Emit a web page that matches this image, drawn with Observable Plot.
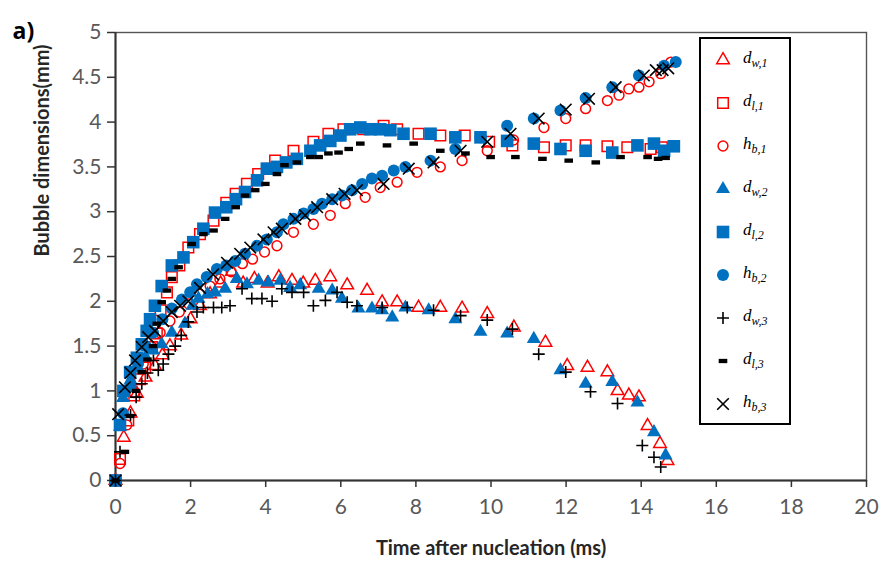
<!DOCTYPE html>
<html><head><meta charset="utf-8">
<script src="https://cdn.jsdelivr.net/npm/d3@7"></script>
<script src="https://cdn.jsdelivr.net/npm/@observablehq/plot@0.6"></script>
<style>
body{margin:0;background:#fff;}
#wrap{position:relative;width:886px;height:572px;overflow:hidden;}
#legend{position:absolute;left:699px;top:37px;width:88px;height:384px;border:2px solid #000;background:#fff;}
.row{position:absolute;left:0;width:88px;height:30px;}
.lab{position:absolute;left:42px;top:3px;font-family:"Liberation Serif","DejaVu Serif",serif;font-style:italic;font-size:17px;color:#000;white-space:nowrap;}
.lab sub{font-size:12px;font-style:italic;}
</style></head><body><div id="wrap"></div>
<script>
// ---- data: [time (ms), dimension (mm)] ----
const dw1 = [[0,0],[0.22,0.48],[0.4,0.75],[0.57,0.97],[0.8,1.15],[1.05,1.28],[1.25,1.4],[1.45,1.5],[1.75,1.62],[2.0,1.8],[2.25,1.95],[2.52,2.08],[2.8,2.2],[3.1,2.33],[3.4,2.2],[3.7,2.25],[4.05,2.2],[4.35,2.27],[4.7,2.23],[5.0,2.2],[5.32,2.23],[5.72,2.27],[6.17,2.18],[6.7,2.12],[7.1,1.99],[7.5,1.99],[8.07,1.93],[8.65,1.93],[9.23,1.92],[9.9,1.86],[10.61,1.71],[11.45,1.54],[12.03,1.28],[12.57,1.26],[13.1,1.21],[13.37,1.0],[13.67,0.95],[13.94,0.93],[14.17,0.61],[14.5,0.41],[14.7,0.22]];
const dl1 = [[0,0],[0.12,0.24],[0.34,0.67],[0.5,0.95],[0.65,1.13],[0.79,1.26],[0.97,1.49],[1.1,1.64],[1.2,1.9],[1.37,2.1],[1.5,2.27],[1.7,2.4],[1.94,2.6],[2.25,2.75],[2.61,2.9],[2.95,3.1],[3.2,3.2],[3.5,3.31],[3.8,3.42],[4.05,3.48],[4.25,3.57],[4.74,3.68],[5.27,3.78],[5.67,3.87],[6.07,3.92],[6.6,3.92],[7.14,3.96],[7.5,3.92],[8.07,3.87],[8.65,3.85],[9.3,3.85],[9.95,3.78],[10.57,3.74],[11.41,3.72],[11.99,3.74],[12.52,3.74],[13.1,3.73],[13.63,3.72],[14.25,3.7],[14.55,3.72]];
const hb1 = [[0,0],[0.12,0.19],[0.3,0.62],[0.5,0.98],[0.74,1.3],[0.95,1.5],[1.19,1.65],[1.45,1.78],[1.7,1.88],[1.95,1.97],[2.25,2.08],[2.52,2.17],[2.78,2.25],[3.08,2.33],[3.38,2.42],[3.65,2.47],[3.97,2.55],[4.3,2.62],[4.74,2.77],[5.27,2.86],[5.72,2.96],[6.12,3.09],[6.65,3.16],[7.05,3.27],[7.5,3.33],[8.03,3.44],[8.65,3.5],[9.23,3.57],[9.9,3.68],[10.6,3.8],[11.41,3.94],[11.99,4.04],[12.52,4.15],[13.1,4.24],[13.41,4.3],[13.67,4.37],[13.94,4.39],[14.21,4.45],[14.52,4.54],[14.79,4.67]];
const dw2 = [[0,0],[0.12,0.6],[0.2,0.92],[0.4,1.12],[0.6,1.25],[0.8,1.38],[1.0,1.45],[1.23,1.52],[1.5,1.65],[1.85,1.75],[2.05,1.95],[2.21,2.03],[2.45,2.08],[2.65,2.1],[2.92,2.14],[3.23,2.25],[3.5,2.19],[3.81,2.23],[4.07,2.21],[4.39,2.23],[4.65,2.15],[4.92,2.18],[5.41,2.14],[5.77,2.12],[6.03,2.03],[6.47,1.92],[6.83,1.92],[7.1,1.9],[7.37,1.82],[7.72,1.93],[8.34,1.9],[9.05,1.8],[9.72,1.66],[10.43,1.64],[11.14,1.58],[11.85,1.23],[12.52,1.08],[13.23,1.1],[13.9,0.87],[14.34,0.54],[14.65,0.28]];
const dl2 = [[0,0],[0.12,0.62],[0.21,1.0],[0.39,1.21],[0.57,1.37],[0.7,1.52],[0.83,1.67],[0.92,1.8],[1.05,1.95],[1.23,2.17],[1.5,2.4],[1.81,2.49],[2.07,2.66],[2.34,2.81],[2.65,2.99],[2.95,3.05],[3.21,3.14],[3.45,3.22],[3.77,3.35],[4.03,3.48],[4.3,3.5],[4.55,3.55],[4.83,3.59],[5.19,3.68],[5.45,3.74],[5.72,3.79],[5.99,3.85],[6.25,3.92],[6.52,3.94],[6.79,3.92],[7.05,3.92],[7.32,3.91],[7.67,3.87],[8.39,3.87],[9.05,3.83],[9.72,3.83],[10.43,3.79],[11.14,3.76],[11.85,3.7],[12.52,3.68],[13.23,3.66],[13.9,3.74],[14.34,3.76],[14.61,3.68],[14.87,3.73]];
const hb2 = [[0,0],[0.2,0.75],[0.4,1.05],[0.6,1.3],[0.8,1.5],[1.0,1.65],[1.25,1.8],[1.5,1.92],[1.77,2.02],[1.99,2.1],[2.17,2.19],[2.43,2.27],[2.7,2.36],[2.95,2.4],[3.19,2.45],[3.45,2.53],[3.77,2.62],[4.03,2.69],[4.3,2.77],[4.47,2.86],[4.74,2.92],[5.01,2.98],[5.27,3.03],[5.5,3.09],[5.77,3.14],[6.03,3.18],[6.3,3.24],[6.57,3.31],[6.83,3.37],[7.1,3.4],[7.41,3.46],[7.72,3.5],[8.39,3.57],[9.05,3.7],[9.72,3.83],[10.43,3.96],[11.14,4.04],[11.85,4.13],[12.52,4.27],[13.23,4.39],[13.94,4.52],[14.61,4.63],[14.92,4.67]];
const dw3 = [[0,0],[0.12,0.32],[0.4,0.73],[0.55,0.93],[0.7,1.08],[0.85,1.2],[1.01,1.34],[1.14,1.23],[1.27,1.3],[1.41,1.41],[1.59,1.5],[1.75,1.62],[1.94,1.77],[2.17,1.88],[2.34,1.93],[2.61,1.93],[2.83,1.93],[3.05,1.95],[3.37,2.14],[3.63,2.03],[3.9,2.03],[4.17,2.0],[4.43,2.14],[4.7,2.1],[5.01,2.1],[5.27,1.95],[5.59,2.01],[5.9,2.1],[6.17,1.99],[6.43,1.95],[7.1,1.93],[7.77,1.93],[8.47,1.9],[9.19,1.84],[9.9,1.79],[10.57,1.69],[11.27,1.41],[11.99,1.21],[12.65,0.99],[13.37,0.86],[14.03,0.39],[14.34,0.26],[14.52,0.15]];
const dl3 = [[0,0],[0.25,0.32],[0.39,0.72],[0.55,1.0],[0.7,1.21],[0.85,1.35],[1.0,1.5],[1.1,1.75],[1.23,1.99],[1.37,2.12],[1.5,2.25],[1.68,2.38],[2.03,2.64],[2.34,2.75],[2.61,2.79],[2.92,2.92],[3.2,3.05],[3.45,3.18],[3.72,3.24],[3.99,3.31],[4.3,3.42],[4.5,3.52],[4.83,3.55],[5.19,3.61],[5.41,3.61],[5.67,3.65],[5.94,3.66],[6.21,3.7],[6.52,3.76],[7.23,3.74],[7.94,3.76],[8.65,3.68],[9.32,3.65],[9.99,3.61],[10.65,3.61],[11.37,3.59],[12.07,3.57],[12.79,3.55],[13.45,3.61],[14.17,3.61],[14.45,3.59],[14.65,3.6]];
const hb3 = [[0,0],[0.07,0.74],[0.25,1.04],[0.4,1.2],[0.52,1.34],[0.7,1.49],[0.87,1.6],[1.05,1.67],[1.27,1.78],[1.5,1.88],[1.72,1.95],[1.94,2.0],[2.25,2.15],[2.6,2.3],[2.97,2.43],[3.32,2.53],[3.59,2.6],[3.94,2.69],[4.21,2.77],[4.43,2.81],[4.79,2.92],[5.05,2.96],[5.37,3.05],[5.77,3.14],[6.1,3.2],[6.43,3.24],[7.14,3.31],[7.81,3.48],[8.47,3.55],[9.19,3.68],[9.9,3.78],[10.52,3.87],[11.27,4.04],[11.99,4.14],[12.61,4.26],[13.32,4.39],[14.07,4.52],[14.39,4.58],[14.57,4.58],[14.72,4.6]];

const xTicks = [0,2,4,6,8,10,12,14,16,18,20];
const yTicks = [0,0.5,1,1.5,2,2.5,3,3.5,4,4.5,5];
const seriesNames = ["dw1","dl1","hb1","dw2","dl2","hb2","dw3","dl3","hb3"];
const legendLabels = [["d","w,1"],["d","l,1"],["h","b,1"],["d","w,2"],["d","l,2"],["h","b,2"],["d","w,3"],["d","l,3"],["h","b,3"]];

// ---- symbols ----
function mk(fn){return {draw(ctx,size){const r=Math.sqrt(size/Math.PI); fn(ctx,r);}};}
const symTri = mk((c,r)=>{const h=r*Math.sqrt(3); c.moveTo(0,-2*h/3); c.lineTo(r,h/3); c.lineTo(-r,h/3); c.closePath();});
const symSq = mk((c,r)=>{c.rect(-r,-r,2*r,2*r);});
const symCirc = mk((c,r)=>{c.moveTo(r,0); c.arc(0,0,r,0,2*Math.PI);});
const symPlus = mk((c,r)=>{c.moveTo(-r,0);c.lineTo(r,0);c.moveTo(0,-r);c.lineTo(0,r);});
const symTimes = mk((c,r)=>{c.moveTo(-r,-r);c.lineTo(r,r);c.moveTo(-r,r);c.lineTo(r,-r);});
const symDash = mk((c,r)=>{c.rect(-r,-r*0.5,2*r,r);});

const RED="#ff0000", BLUE="#0070c0", BLK="#000000";
const data = {dw1,dl1,hb1,dw2,dl2,hb2,dw3,dl3,hb3};
const style = {
  dw1:{sym:symTri,r:6.3,fill:"none",stroke:RED,sw:1.5},
  dl1:{sym:symSq,r:5.3,fill:"none",stroke:RED,sw:1.5},
  hb1:{sym:symCirc,r:4.9,fill:"none",stroke:RED,sw:1.5},
  dw2:{sym:symTri,r:7,fill:BLUE,stroke:"none",sw:0},
  dl2:{sym:symSq,r:6.3,fill:BLUE,stroke:"none",sw:0},
  hb2:{sym:symCirc,r:6,fill:BLUE,stroke:"none",sw:0},
  dw3:{sym:symPlus,r:6,fill:"none",stroke:BLK,sw:1.6},
  dl3:{sym:symDash,r:4.3,fill:BLK,stroke:"none",sw:0},
  hb3:{sym:symTimes,r:5.8,fill:"none",stroke:BLK,sw:1.6}
};

const dotMarks = seriesNames.map(k => Plot.dot(data[k], {
  x: d=>d[0], y: d=>d[1], symbol: style[k].sym, r: style[k].r,
  fill: style[k].fill, stroke: style[k].stroke, strokeWidth: style[k].sw
}));

const chart = Plot.plot({
  width: 886, height: 572,
  marginLeft: 115, marginRight: 20, marginTop: 32, marginBottom: 92,
  x: {domain:[0,20]},
  y: {domain:[0,5]},
  style: {fontFamily:"Lato, 'Open Sans', sans-serif", background:"#fff", overflow:"visible"},
  marks: [
    Plot.frame({stroke:"#555", strokeWidth:1.4}),
    Plot.ruleX([0], {stroke:"#333", strokeWidth:2}),
    Plot.ruleY([0], {stroke:"#333", strokeWidth:2}),
    Plot.axisX({ticks:xTicks, tickSize:7, tickPadding:12, tickFormat:d=>String(d), fontSize:21, fill:"#595959", stroke:"#333", strokeWidth:1.5, label:null}),
    Plot.axisY({ticks:yTicks, tickSize:8, tickPadding:6, tickFormat:d=>String(d), fontSize:21, fill:"#595959", stroke:"#333", strokeWidth:1.5, label:null}),
    Plot.text(["Bubble dimensions(mm)"], {text:d=>d, frameAnchor:"left", dx:-73, rotate:-90, fontSize:20, fontWeight:"bold", fill:"#262626"}),
    Plot.text(["Time after nucleation (ms)"], {text:d=>d, frameAnchor:"bottom", dy:74, fontSize:20, fontWeight:"bold", fill:"#262626"}),
    Plot.text(["a)"], {text:d=>d, frameAnchor:"top-left", dx:-103, dy:-10, textAnchor:"start", fontSize:23, fontWeight:"bold", fill:"#000", fontFamily:"'Open Sans', Lato, sans-serif"}),
    ...dotMarks
  ]
});
const wrap = document.getElementById("wrap");
wrap.appendChild(chart);

// ---- legend ----
const leg = document.createElement("div");
leg.id = "legend";
seriesNames.forEach((k,i)=>{
  const row = document.createElement("div");
  row.className = "row";
  const cy = 21 + 43*i;
  row.style.top = (cy-15)+"px";
  const s = style[k];
  const p = d3.symbol().type(s.sym).size(s.r*s.r*Math.PI)();
  row.innerHTML = `<svg width="30" height="30" style="position:absolute;left:7px;top:0"><path transform="translate(15,15)" d="${p}" fill="${s.fill}" stroke="${s.stroke}" stroke-width="${s.sw}"/></svg>`+
    `<span class="lab">${legendLabels[i][0]}<sub>${legendLabels[i][1]}</sub></span>`;
  leg.appendChild(row);
});
wrap.appendChild(leg);
</script></body></html>
